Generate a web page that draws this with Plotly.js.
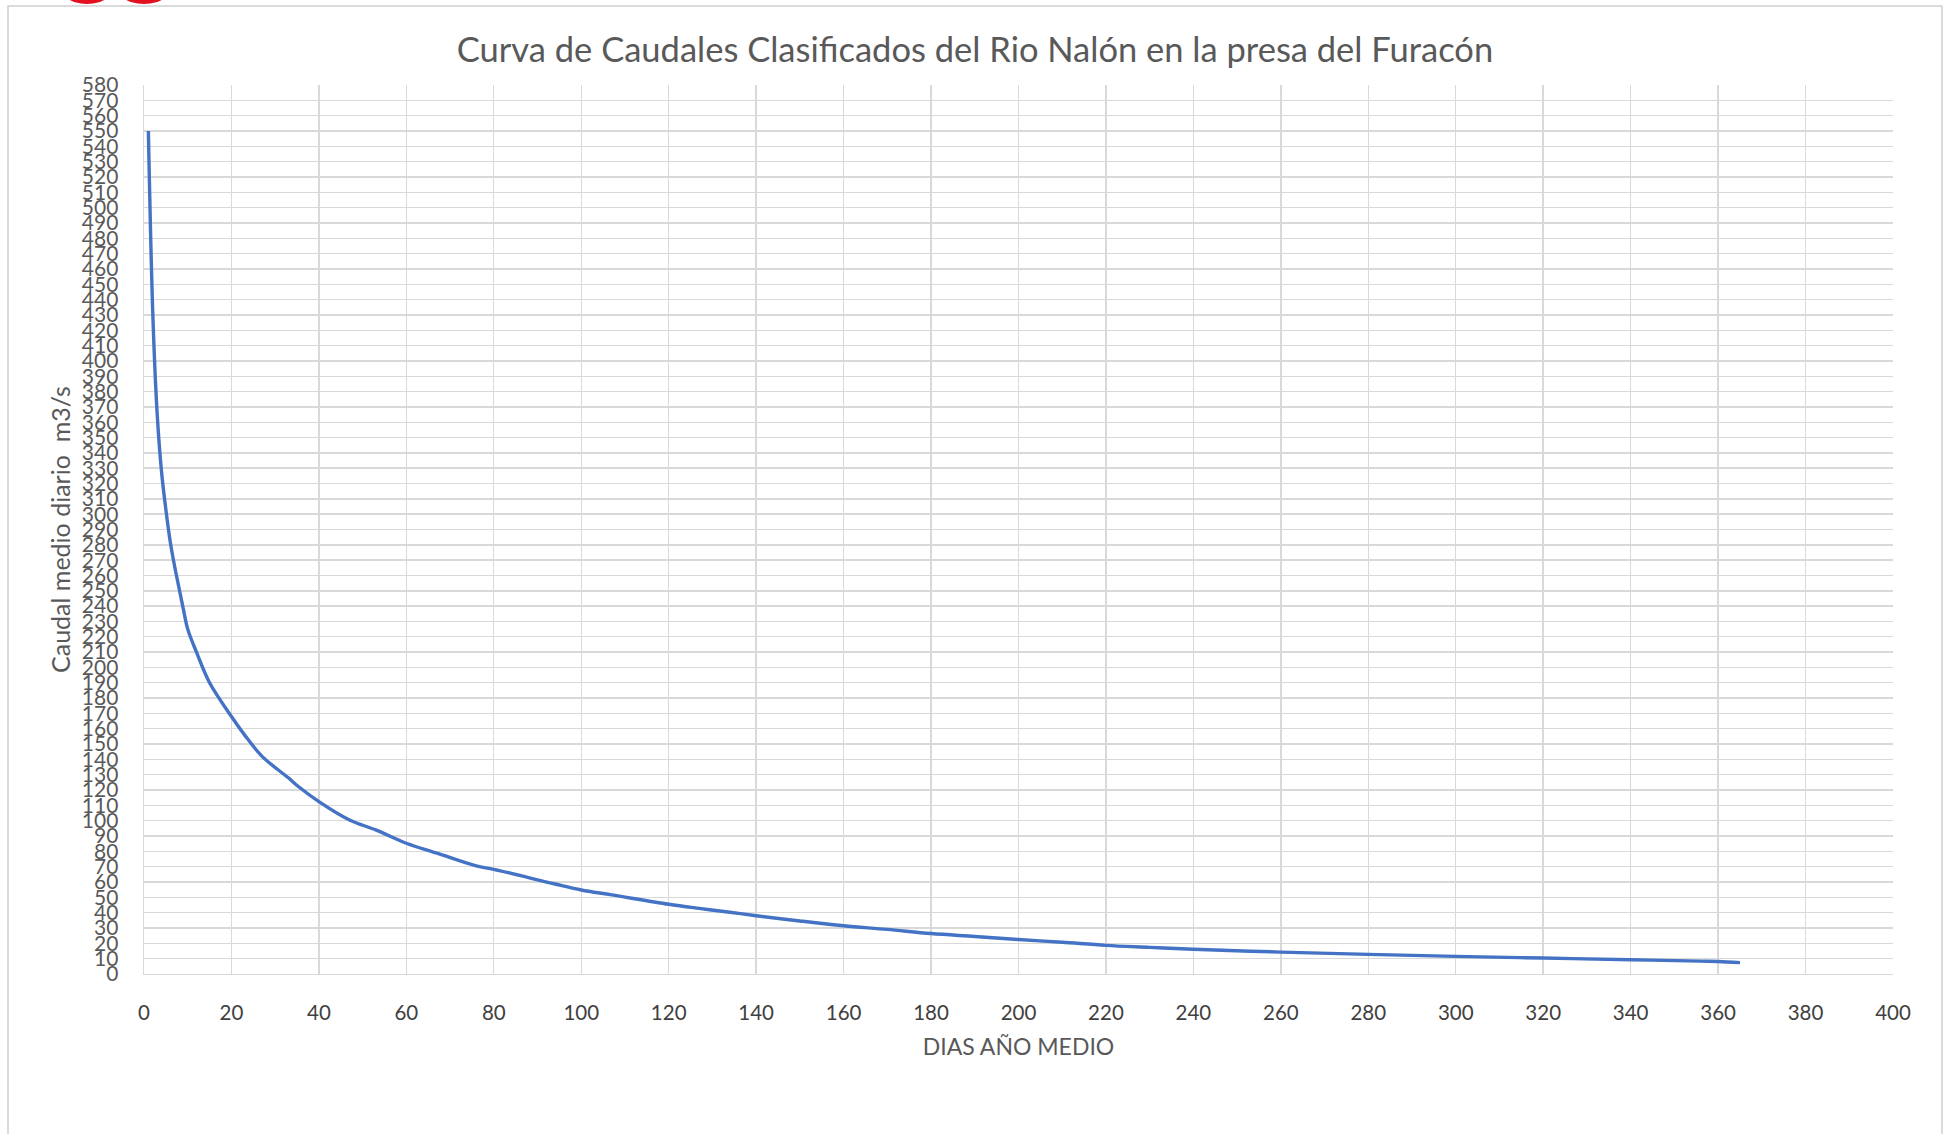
<!DOCTYPE html>
<html>
<head>
<meta charset="utf-8">
<script src="https://cdn.plot.ly/plotly-3.0.1.min.js"></script>
<style>
html,body{margin:0;padding:0;background:#fff;}
#chart{width:1950px;height:1134px;}
</style>
</head>
<body>
<div id="chart"></div>
<script>
// Días del año medio (ordenados) y caudal medio diario (m3/s)
const dias = [1,2,3,4,5,6,7,8,9,10,12,15,20,23,27,33,35,40,47,53,60,67,76,80,94,100,107,120,127,134,140,150,160,170,180,190,200,210,220,230,240,260,280,300,320,340,356,360,365];
const caudal = [550,432,366,328,303,282,266,252,238,225,210,190,168,156,142,128,123,112.5,100.5,94,85.3,78.8,70.5,68.3,58.7,54.8,51.6,45.5,42.8,40.3,38,34.6,31.5,29.1,26.4,24.5,22.5,20.7,18.7,17.4,16.1,14.3,12.8,11.5,10.4,9.3,8.4,8.2,7.4];

const titulo = "Curva de Caudales Clasificados del Rio Nalón en la presa del Furacón";
const tituloX = "DIAS AÑO MEDIO";
const tituloY = "Caudal medio diario  m3/s";

const FONT = "Lato, 'Open Sans', sans-serif";
const TXT = "#595959";
const GRID = "#d9d9d9";

const trace = {
  x: dias, y: caudal, type: "scatter", mode: "lines",
  line: {color: "#4472c4", width: 3.4, shape: "spline", smoothing: 1},
  hoverinfo: "x+y"
};

const layout = {
  width: 1950, height: 1134,
  margin: {l: 144, r: 57, t: 85, b: 160},
  paper_bgcolor: "#ffffff", plot_bgcolor: "#ffffff",
  showlegend: false,
  font: {family: FONT, color: TXT},
  title: {
    text: titulo, xref: "container", x: 0.5, xanchor: "center",
    yref: "container", y: 1 - 50/1134, yanchor: "middle",
    font: {family: FONT, size: 34.5, color: TXT}
  },
  xaxis: {
    range: [0, 400], dtick: 20, tick0: 0,
    showgrid: true, gridcolor: GRID, gridwidth: 1.4,
    showline: true, linecolor: GRID, linewidth: 1.4,
    zeroline: false, ticks: "",
    ticklabelstandoff: 20,
    tickfont: {family: FONT, size: 20.5, color: "#404040"},
    title: {text: tituloX, standoff: 16, font: {family: FONT, size: 23, color: TXT}}
  },
  yaxis: {
    range: [0, 580], dtick: 10, tick0: 0,
    showgrid: true, gridcolor: GRID, gridwidth: 1.4,
    showline: true, linecolor: GRID, linewidth: 1.4,
    zeroline: false, ticks: "",
    ticklabelstandoff: 20,
    tickfont: {family: FONT, size: 21, color: TXT},
    title: {text: tituloY, standoff: 4, font: {family: FONT, size: 25, color: TXT}}
  },
  shapes: [
    {type: "rect", xref: "paper", yref: "paper",
     x0: (8-144)/1749, x1: (1942-144)/1749, y0: (974-1150)/889, y1: (974-6)/889,
     line: {color: "#d0d0d0", width: 1.5}, fillcolor: "rgba(0,0,0,0)", layer: "below"},
    {type: "circle", xref: "paper", yref: "paper",
     x0: (56-144)/1749, x1: (118-144)/1749, y0: (974-4)/889, y1: (974+44)/889,
     line: {width: 0}, fillcolor: "#e3101f"},
    {type: "circle", xref: "paper", yref: "paper",
     x0: (112-144)/1749, x1: (176-144)/1749, y0: (974-4)/889, y1: (974+44)/889,
     line: {width: 0}, fillcolor: "#e3101f"}
  ]
};

Plotly.newPlot("chart", [trace], layout, {displayModeBar: false, staticPlot: true});
</script>
</body>
</html>
